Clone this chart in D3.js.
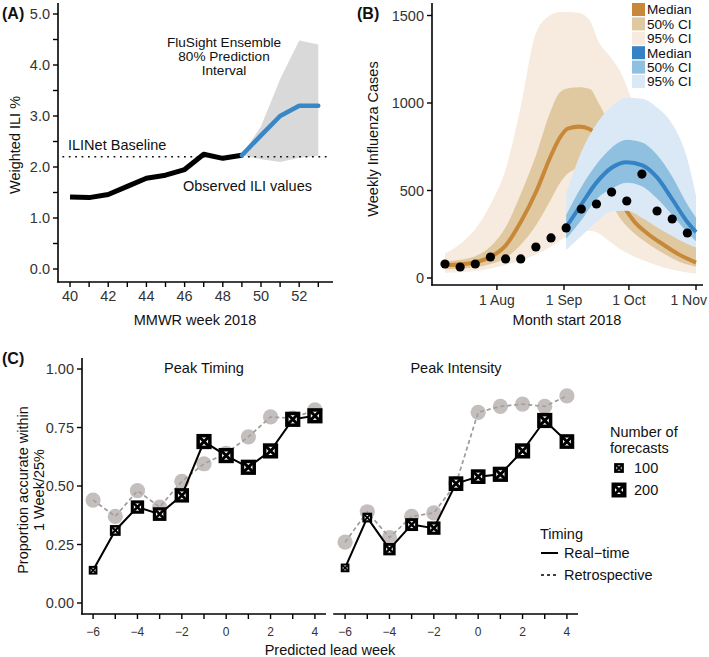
<!DOCTYPE html>
<html><head><meta charset="utf-8">
<script src="https://cdn.jsdelivr.net/npm/d3@7"></script>
<style>
body{margin:0;background:#fff}
svg{display:block}
text{font-family:"Liberation Sans",Arial,Helvetica,sans-serif;fill:#111}
</style>
</head><body>
<svg id="chart" width="709" height="657"></svg>
<script>
// ---------------- Panel A data ----------------
const weeksObs = [40,41,42,43,44,45,46,47,48,49];
const iliObs = [1.41,1.40,1.46,1.62,1.78,1.84,1.95,2.25,2.17,2.23];
const weeksFc = [49,50,51,52,53];
const iliFcMedian = [2.23,2.62,3.0,3.2,3.2];
const iliFcLo = [2.23,2.15,2.1,2.18,2.22];
const iliFcHi = [2.23,2.8,3.72,4.48,4.4];
const iliBaseline = 2.2;
const aYTicks = [0,1,2,3,4,5];
const aXTicks = [40,42,44,46,48,50,52];

// ---------------- Panel B data ----------------
const obsDates = ["2018-07-08","2018-07-15","2018-07-22","2018-07-29","2018-08-05","2018-08-12","2018-08-19","2018-08-26","2018-09-02","2018-09-09","2018-09-16","2018-09-23","2018-09-30","2018-10-07","2018-10-14","2018-10-21","2018-10-28"];
const obsCases = [80,63,80,120,109,109,177,229,286,394,423,491,440,594,383,337,257];

const orangeDates = ["2018-07-08","2018-07-15","2018-07-22","2018-07-29","2018-08-05","2018-08-12","2018-08-19","2018-08-26","2018-08-30","2018-09-03","2018-09-08","2018-09-13","2018-09-17","2018-09-22","2018-09-27","2018-10-03","2018-10-10","2018-10-17","2018-10-24","2018-11-01"];
const orangeMedian = [72,78,90,120,185,320,490,700,800,855,865,850,790,620,450,330,250,190,135,88];
const orange50Lo = [50,55,62,80,115,190,300,450,540,600,625,610,560,450,340,260,195,140,95,65];
const orange50Hi = [95,105,125,180,290,480,700,960,1060,1085,1090,1080,1000,880,760,600,470,360,270,200];
const orange95Lo = [30,33,40,55,75,100,135,180,215,240,262,270,255,210,165,125,90,60,40,25];
const orange95Hi = [140,195,280,420,620,980,1400,1505,1520,1520,1515,1470,1350,1270,1180,1000,800,600,420,280];

const blueDates = ["2018-09-02","2018-09-09","2018-09-16","2018-09-23","2018-09-30","2018-10-07","2018-10-14","2018-10-21","2018-10-28","2018-11-01"];
const blueMedian = [290,420,545,630,662,645,575,450,320,262];
const blue50Lo = [225,330,450,510,545,525,455,360,260,210];
const blue50Hi = [360,520,650,745,790,775,705,580,420,345];
const blue95Lo = [160,240,320,380,385,345,290,240,195,175];
const blue95Hi = [480,720,880,980,1030,1025,975,880,680,470];

const bYTicks = [0,500,1000,1500];
const bXTicks = ["2018-08-01","2018-09-01","2018-10-01","2018-11-01"];
const bLegendLabels = ["Median","50% CI","95% CI","Median","50% CI","95% CI"];

// ---------------- Panel C data ----------------
const leadWeeks = [-6,-5,-4,-3,-2,-1,0,1,2,3,4];
const timingRealtime = [0.14,0.31,0.41,0.38,0.46,0.69,0.63,0.58,0.65,0.785,0.80];
const timingRetro = [0.44,0.37,0.48,0.41,0.52,0.595,0.64,0.71,0.795,0.79,0.825];
const timingCounts = [80,120,170,175,190,205,205,205,205,205,205];
const intensityRealtime = [0.15,0.365,0.23,0.335,0.32,0.51,0.54,0.55,0.65,0.78,0.69];
const intensityRetro = [0.26,0.39,0.28,0.37,0.385,0.51,0.815,0.84,0.85,0.84,0.885];
const intensityCounts = [80,100,150,160,170,195,195,205,205,205,195];
const cYTicks = [0,0.25,0.5,0.75,1];
const cXTicks = [-6,-4,-2,0,2,4];
const countLegend = [100,200];
const timingLegend = ["Real\u2212time","Retrospective"];

// ---------------- colours ----------------
const colOrangeMed = "#c8883a", colOrange50 = "#e0c9a0", colOrange95 = "#f7ebdf";
const colBlueMed = "#3583c4", colBlue50 = "#8fc0e0", colBlue95 = "#dbe9f6";

const svg = d3.select("#chart");
const parse = d3.timeParse("%Y-%m-%d");

function axisLine(g, x1,y1,x2,y2){
  g.append("line").attr("x1",x1).attr("y1",y1).attr("x2",x2).attr("y2",y2)
    .attr("stroke","#000").attr("stroke-width",1.6);
}

// ================= Panel A =================
(function(){
  const x = d3.scaleLinear().domain([39.37,53.77]).range([58,333]);
  const y = d3.scaleLinear().domain([0,5]).range([269,14]);
  const g = svg.append("g");
  const area = d3.area().x((d,i)=>x(weeksFc[i])).y0((d,i)=>y(iliFcLo[i])).y1((d,i)=>y(iliFcHi[i]));
  g.append("path").datum(weeksFc).attr("d",area).attr("fill","#d9d9d9");
  g.append("line").attr("x1",x(39.6)).attr("x2",x(53.6)).attr("y1",y(iliBaseline)).attr("y2",y(iliBaseline))
    .attr("stroke","#111").attr("stroke-width",1.6).attr("stroke-dasharray","1.8,4.6");
  const line = d3.line().x(d=>x(d[0])).y(d=>y(d[1]));
  g.append("path").datum(weeksObs.map((w,i)=>[w,iliObs[i]])).attr("d",line)
    .attr("fill","none").attr("stroke","#000").attr("stroke-width",5).attr("stroke-linejoin","round");
  g.append("path").datum(weeksFc.map((w,i)=>[w,iliFcMedian[i]])).attr("d",line)
    .attr("fill","none").attr("stroke","#3a87c8").attr("stroke-width",4.5).attr("stroke-linejoin","round").attr("stroke-linecap","round");
  axisLine(g,58,3,58,282.5);
  axisLine(g,57.2,282,333,282);
  d3.range(0,5.01,0.5).forEach(v=>{
    g.append("line").attr("x1",53).attr("x2",58).attr("y1",y(v)).attr("y2",y(v)).attr("stroke","#000").attr("stroke-width",1.4);
  });
  aYTicks.forEach(v=>{
    g.append("text").attr("x",50).attr("y",y(v)).attr("dy","0.36em").attr("text-anchor","end")
      .attr("font-size",14.5).style("fill","#333").text(d3.format(".1f")(v));
  });
  d3.range(40,54).forEach(w=>{
    g.append("line").attr("x1",x(w)).attr("x2",x(w)).attr("y1",282).attr("y2",287).attr("stroke","#000").attr("stroke-width",1.4);
  });
  aXTicks.forEach(w=>{
    g.append("text").attr("x",x(w)).attr("y",301).attr("text-anchor","middle")
      .attr("font-size",14.5).style("fill","#333").text(w);
  });
  g.append("text").attr("x",68).attr("y",150).attr("font-size",14.5).text("ILINet Baseline");
  g.append("text").attr("x",183).attr("y",191).attr("font-size",14.5).text("Observed ILI values");
  ["FluSight Ensemble","80% Prediction","Interval"].forEach((t,i)=>{
    g.append("text").attr("x",224).attr("y",47+i*14.2).attr("text-anchor","middle").attr("font-size",13.6).text(t);
  });
  g.append("text").attr("transform","translate(15,145) rotate(-90)").attr("dy","0.35em")
    .attr("text-anchor","middle").attr("font-size",14.5).text("Weighted ILI %");
  g.append("text").attr("x",195).attr("y",325).attr("text-anchor","middle").attr("font-size",14.5).text("MMWR week 2018");
  g.append("text").attr("x",2).attr("y",19).attr("font-size",16).attr("font-weight","bold").text("(A)");
})();

// ================= Panel B =================
(function(){
  const x = d3.scaleTime().domain([parse("2018-07-02"),parse("2018-11-04")]).range([432,702.5]);
  const y = d3.scaleLinear().domain([0,1500]).range([278,15.5]);
  const g = svg.append("g");
  const curve = d3.curveMonotoneX;
  function band(dates, lo, hi, fill){
    const a = d3.area().curve(curve).x((d,i)=>x(parse(dates[i]))).y0((d,i)=>y(lo[i])).y1((d,i)=>y(hi[i]));
    g.append("path").datum(dates).attr("d",a).attr("fill",fill);
  }
  function med(dates, vals, col){
    const l = d3.line().curve(curve).x((d,i)=>x(parse(dates[i]))).y((d,i)=>y(vals[i]));
    g.append("path").datum(dates).attr("d",l).attr("fill","none").attr("stroke",col).attr("stroke-width",4);
  }
  band(orangeDates, orange95Lo, orange95Hi, colOrange95);
  band(orangeDates, orange50Lo, orange50Hi, colOrange50);
  med(orangeDates, orangeMedian, colOrangeMed);
  band(blueDates, blue95Lo, blue95Hi, colBlue95);
  band(blueDates, blue50Lo, blue50Hi, colBlue50);
  med(blueDates, blueMedian, colBlueMed);
  g.selectAll("circle.obs").data(obsDates).enter().append("circle")
    .attr("cx",d=>x(parse(d))).attr("cy",(d,i)=>y(obsCases[i])).attr("r",4.6).attr("fill","#000");
  axisLine(g,432,3,432,285.5);
  axisLine(g,431.2,285,703,285);
  bYTicks.forEach(v=>{
    g.append("line").attr("x1",427).attr("x2",432).attr("y1",y(v)).attr("y2",y(v)).attr("stroke","#000").attr("stroke-width",1.4);
    g.append("text").attr("x",424).attr("y",y(v)).attr("dy","0.36em").attr("text-anchor","end")
      .attr("font-size",14.5).style("fill","#333").text(v);
  });
  const fmt = d3.timeFormat("%-d %b");
  bXTicks.forEach((s,i)=>{
    const d = parse(s);
    g.append("line").attr("x1",x(d)).attr("x2",x(d)).attr("y1",285).attr("y2",290).attr("stroke","#000").attr("stroke-width",1.4);
    const last = i===bXTicks.length-1;
    g.append("text").attr("x",last?707:x(d)).attr("y",305).attr("text-anchor",last?"end":"middle")
      .attr("font-size",14).style("fill","#333").text(fmt(d));
  });
  g.append("text").attr("transform","translate(373,139) rotate(-90)").attr("dy","0.35em")
    .attr("text-anchor","middle").attr("font-size",14.5).text("Weekly Influenza Cases");
  g.append("text").attr("x",567).attr("y",325).attr("text-anchor","middle").attr("font-size",14.5).text("Month start 2018");
  g.append("text").attr("x",357).attr("y",19).attr("font-size",16).attr("font-weight","bold").text("(B)");
  const legCols = [colOrangeMed,colOrange50,colOrange95,colBlueMed,colBlue50,colBlue95];
  bLegendLabels.forEach((t,i)=>{
    const cy = 9.5 + i*14.4;
    g.append("rect").attr("x",632).attr("y",cy-6.5).attr("width",13).attr("height",13).attr("fill",legCols[i]);
    g.append("text").attr("x",647).attr("y",cy).attr("dy","0.36em").attr("font-size",13.6).text(t);
  });
})();

// ================= Panel C =================
const sizeScale = d3.scaleLinear().domain([100,200]).range([7.5,11.5]);
function squareCross(g, cx, cy, s){
  const h = s/2;
  const sw = Math.max(2, s*0.3);
  g.append("rect").attr("x",cx-h).attr("y",cy-h).attr("width",s).attr("height",s)
    .attr("fill","#fff").attr("stroke","#000").attr("stroke-width",sw);
  g.append("path").attr("d",`M${cx-h},${cy-h}L${cx+h},${cy+h}M${cx+h},${cy-h}L${cx-h},${cy+h}`)
    .attr("stroke","#000").attr("stroke-width",sw*0.85);
}
const minusFmt = w => (w<0 ? "\u2212"+(-w) : String(w));
const cy = d3.scaleLinear().domain([-0.047,1.047]).range([614,358]);
function panelC(r0, r1, title, rt, retro, counts, showY){
  const x = d3.scaleLinear().domain([-6.5,4.5]).range([r0,r1]);
  const g = svg.append("g");
  const l = d3.line().x((d,i)=>x(leadWeeks[i])).y(d=>cy(d));
  g.append("path").datum(retro).attr("d",l).attr("fill","none").attr("stroke","#a9a9a9")
    .attr("stroke-width",1.6).attr("stroke-dasharray","4,3");
  retro.forEach((v,i)=>{
    g.append("circle").attr("cx",x(leadWeeks[i])).attr("cy",cy(v)).attr("r",7.6)
      .attr("fill","#b5afab").attr("fill-opacity",0.8);
  });
  g.append("path").datum(retro).attr("d",l).attr("fill","none").attr("stroke","#999")
    .attr("stroke-width",1.4).attr("stroke-dasharray","4,3").attr("opacity",0.7);
  g.append("path").datum(rt).attr("d",l).attr("fill","none").attr("stroke","#000").attr("stroke-width",2);
  rt.forEach((v,i)=>squareCross(g, x(leadWeeks[i]), cy(v), sizeScale(counts[i])));
  axisLine(g, r0-0.8, 614, r1, 614);
  leadWeeks.forEach(w=>{
    g.append("line").attr("x1",x(w)).attr("x2",x(w)).attr("y1",614).attr("y2",619).attr("stroke","#000").attr("stroke-width",1.4);
  });
  cXTicks.forEach(w=>{
    g.append("text").attr("x",x(w)).attr("y",636).attr("text-anchor","middle").attr("font-size",12)
      .style("fill","#333").text(minusFmt(w));
  });
  g.append("text").attr("x",(r0+r1)/2).attr("y",373).attr("text-anchor","middle").attr("font-size",14.5).text(title);
  if(showY){
    axisLine(g, r0, 358, r0, 614.5);
    cYTicks.forEach(v=>{
      g.append("line").attr("x1",r0-5).attr("x2",r0).attr("y1",cy(v)).attr("y2",cy(v)).attr("stroke","#000").attr("stroke-width",1.4);
      g.append("text").attr("x",r0-8).attr("y",cy(v)).attr("dy","0.36em").attr("text-anchor","end")
        .attr("font-size",14.5).style("fill","#333").text(d3.format(".2f")(v));
    });
  }
}
panelC(82,326,"Peak Timing",timingRealtime,timingRetro,timingCounts,true);
panelC(334,578,"Peak Intensity",intensityRealtime,intensityRetro,intensityCounts,false);

(function(){
  const g = svg.append("g");
  g.append("text").attr("x",2).attr("y",364).attr("font-size",16).attr("font-weight","bold").text("(C)");
  g.append("text").attr("transform","translate(23,490) rotate(-90)").attr("dy","0.35em")
    .attr("text-anchor","middle").attr("font-size",14.5).text("Proportion accurate within");
  g.append("text").attr("transform","translate(39,490) rotate(-90)").attr("dy","0.35em")
    .attr("text-anchor","middle").attr("font-size",14.5).text("1 Week/25%");
  g.append("text").attr("x",330).attr("y",655).attr("text-anchor","middle").attr("font-size",14.5).text("Predicted lead week");
  g.append("text").attr("x",610).attr("y",437).attr("font-size",14.5).text("Number of");
  g.append("text").attr("x",610).attr("y",453).attr("font-size",14.5).text("forecasts");
  countLegend.forEach((n,i)=>{
    const yy = 468 + i*22;
    squareCross(g, 619, yy, sizeScale(n));
    g.append("text").attr("x",634).attr("y",yy).attr("dy","0.36em").attr("font-size",14.5).text(n);
  });
  g.append("text").attr("x",540).attr("y",539).attr("font-size",14.5).text("Timing");
  timingLegend.forEach((t,i)=>{
    const yy = 553 + i*22;
    g.append("line").attr("x1",541).attr("x2",558).attr("y1",yy).attr("y2",yy).attr("stroke","#000")
      .attr("stroke-width",i===0?2:1.6).attr("stroke-dasharray",i===0?null:"3,3");
    g.append("text").attr("x",564).attr("y",yy).attr("dy","0.36em").attr("font-size",14.5).text(t);
  });
})();
</script>
</body></html>
